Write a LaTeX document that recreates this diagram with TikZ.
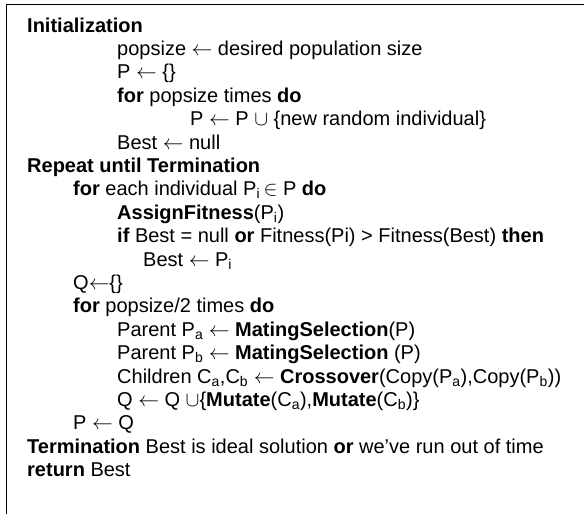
\documentclass[tikz,border=0pt]{standalone}
\usepackage{fontspec}
\setmainfont{Liberation Sans}
\newcommand{\asg}{$\leftarrow$}
\newcommand{\cupsym}{$\cup$}
\newcommand{\insym}{$\,\in$}
\newcommand{\sbs}[1]{\textsubscript{#1}}

\begin{document}
\begin{tikzpicture}[x=1pt, y=-1pt,
    codeline/.style={anchor=base west, inner sep=0pt, font=\fontsize{20}{24}\selectfont},
    frameline/.style={line width=1.5pt, black}]
  \useasboundingbox (0,0) rectangle (584,514);
  % frame, cut at the right and bottom
  \coordinate (corner) at (6.5,4.5);
  \coordinate (topend) at (584,4.5);
  \coordinate (leftend) at (6.5,514);
  \draw[frameline] (topend) -- (corner) -- (leftend);

  % initialization
  \node[codeline] (init) at (27,32) {\textbf{Initialization}};
  \node[codeline] (popsize) at (117,55.4) {popsize \asg{} desired population size};
  \node[codeline] (pempty) at (117,78.8) {P \asg{} \{\}};
  \node[codeline] (forinit) at (117,102.2) {\textbf{for} popsize times \textbf{do}};
  \node[codeline] (padd) at (190,125.6) {P \asg{} P \cupsym{} \{new random individual\}};
  \node[codeline] (bestnull) at (117,149) {Best \asg{} null};

  % main loop
  \node[codeline] (repeat) at (27,172.4) {\textbf{Repeat until Termination}};
  \node[codeline] (foreach) at (73,195.8) {\textbf{for} each individual P\sbs{i}\insym{} P \textbf{do}};
  \node[codeline] (assign) at (117,219.2) {\textbf{AssignFitness}(P\sbs{i})};
  \node[codeline] (ifbest) at (117,242.6) {\textbf{if} Best = null \textbf{or} Fitness(Pi) > Fitness(Best) \textbf{then}};
  \node[codeline] (bestpi) at (143,266) {Best \asg{} P\sbs{i}};
  \node[codeline] (qempty) at (73,289.4) {Q\asg\{\}};
  \node[codeline] (forhalf) at (73,312.8) {\textbf{for} popsize/2 times \textbf{do}};
  \node[codeline] (parenta) at (117,336.2) {Parent P\sbs{a} \asg{} \textbf{MatingSelection}(P)};
  \node[codeline] (parentb) at (117,359.6) {Parent P\sbs{b} \asg{} \textbf{MatingSelection} (P)};
  \node[codeline] (children) at (117,383) {Children C\sbs{a},C\sbs{b} \asg{} \textbf{Crossover}(Copy(P\sbs{a}),Copy(P\sbs{b}))};
  \node[codeline] (qadd) at (117,406.4) {Q \asg{} Q \cupsym\{\textbf{Mutate}(C\sbs{a}),\textbf{Mutate}(C\sbs{b})\}};
  \node[codeline] (pq) at (73,429.8) {P \asg{} Q};

  % end
  \node[codeline] (term) at (27,453.2) {\textbf{Termination} Best is ideal solution \textbf{or} we’ve run out of time};
  \node[codeline] (ret) at (27,476.6) {\textbf{return} Best};
\end{tikzpicture}
\end{document}
